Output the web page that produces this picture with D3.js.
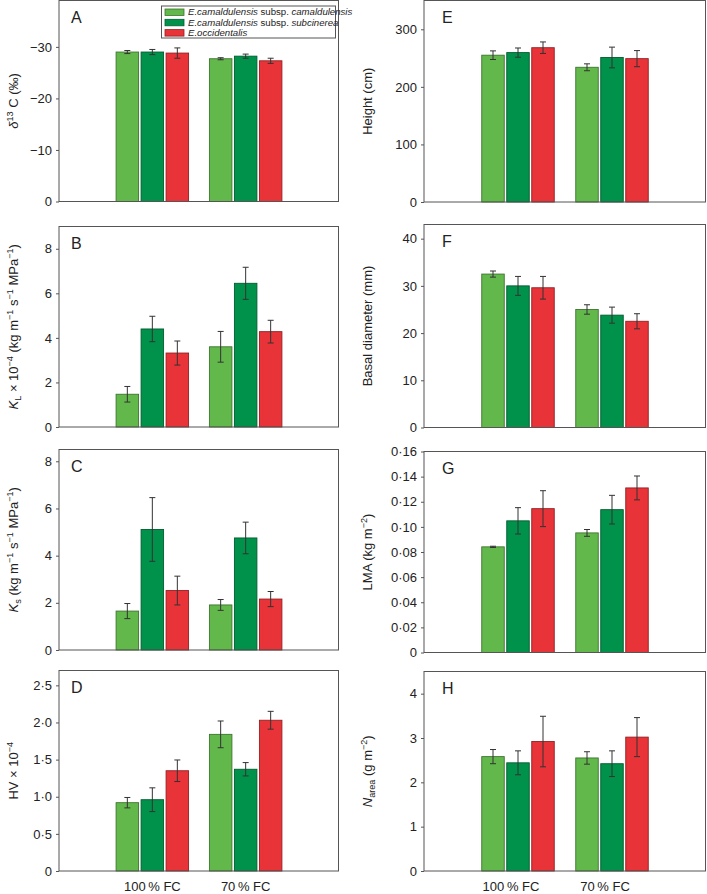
<!DOCTYPE html>
<html><head><meta charset="utf-8">
<script src="https://cdn.jsdelivr.net/npm/d3@7"></script>
<style>
html,body{margin:0;padding:0;background:#fff;}
svg{display:block;font-family:"Liberation Sans",Arial,Helvetica,sans-serif;}
</style></head>
<body><svg id="c" width="707" height="894"></svg>
<script>
// ---------- data ----------
const groups = ["100\u2009% FC", "70\u2009% FC"];
const series = ["E.camaldulensis subsp. camaldulensis", "E.camaldulensis subsp. subcinerea", "E.occidentalis"];
const seriesColors = ["#62b84b", "#00924a", "#e83338"];
// values ordered: [100%FC s1, s2, s3, 70%FC s1, s2, s3]
const d13cMean = [-29.0, -29.0, -28.8, -27.7, -28.2, -27.3];
const d13cErr  = [0.3, 0.5, 1.0, 0.2, 0.4, 0.5];
const klMean = [1.47, 4.40, 3.32, 3.60, 6.45, 4.28];
const klErr  = [0.35, 0.57, 0.54, 0.69, 0.72, 0.51];
const ksMean = [1.65, 5.11, 2.52, 1.91, 4.75, 2.16];
const ksErr  = [0.32, 1.35, 0.61, 0.23, 0.67, 0.32];
const hvMean = [0.92, 0.96, 1.35, 1.84, 1.37, 2.03];
const hvErr  = [0.07, 0.16, 0.145, 0.18, 0.09, 0.12];
const heightMean = [255, 259.5, 268, 234, 251, 249];
const heightErr  = [7.5, 8, 10, 6, 18, 14];
const basalMean = [32.5, 30.0, 29.6, 25.0, 23.8, 22.5];
const basalErr  = [0.65, 2.0, 2.4, 1.0, 1.7, 1.6];
const lmaMean = [0.0841, 0.1048, 0.1145, 0.0952, 0.1137, 0.131];
const lmaErr  = [0.0005, 0.0105, 0.0143, 0.0027, 0.0114, 0.0095];
const nareaMean = [2.58, 2.44, 2.92, 2.55, 2.42, 3.02];
const nareaErr  = [0.16, 0.27, 0.57, 0.14, 0.29, 0.44];

const d13cTicks = [0, -10, -20, -30];
const klTicks = [0, 2, 4, 6, 8];
const ksTicks = [0, 2, 4, 6, 8];
const hvTicks = [0, 0.5, 1.0, 1.5, 2.0, 2.5];
const heightTicks = [0, 100, 200, 300];
const basalTicks = [0, 10, 20, 30, 40];
const lmaTicks = [0, 0.02, 0.04, 0.06, 0.08, 0.10, 0.12, 0.14, 0.16];
const nareaTicks = [0, 1, 2, 3, 4];

// ---------- layout ----------
const svg = d3.select("#c");
const cols = [{x0: 59, x1: 339, letterX: 71, labelX: 18, xLabelShift: 0},
              {x0: 424, x1: 706, letterX: 442, labelX: 372, xLabelShift: -7}];

const fmtDot = d => d === 0 ? "0" : (Math.abs(d) < 1 && String(d).split(".")[1] && String(d).split(".")[1].length >= 2 ? d3.format(".2f")(d) : d3.format(".1f")(d)).replace(".", "\u00b7");
const fmtMinus = d => d === 0 ? "0" : d3.format("d")(d).replace("-", "\u2212");

const SUP = "sup", SUB = "sub";
const panels = [
  {letter: "A", col: 0, top: 0.5, bottom: 201.5, max: -39, mean: d13cMean, err: d13cErr, ticks: d13cTicks, fmt: fmtMinus, legend: true,
   label: [{t: "\u03b4", i: true}, {t: "13", s: SUP}, {t: " C (\u2030)"}]},
  {letter: "B", col: 0, top: 226.5, bottom: 427, max: 9, mean: klMean, err: klErr, ticks: klTicks, fmt: d3.format("d"),
   label: [{t: "K", i: true}, {t: "L", s: SUB}, {t: " \u00d7 10"}, {t: "\u22124", s: SUP}, {t: "  (kg m"}, {t: "\u22121", s: SUP}, {t: " s"}, {t: "\u22121", s: SUP}, {t: " MPa"}, {t: "\u22121", s: SUP}, {t: ")"}]},
  {letter: "C", col: 0, top: 449.5, bottom: 650, max: 8.5, mean: ksMean, err: ksErr, ticks: ksTicks, fmt: d3.format("d"),
   label: [{t: "K", i: true}, {t: "s", s: SUB}, {t: " (kg m"}, {t: "\u22121", s: SUP}, {t: " s"}, {t: "\u22121", s: SUP}, {t: " MPa"}, {t: "\u22121", s: SUP}, {t: ")"}]},
  {letter: "D", col: 0, top: 670.5, bottom: 871, max: 2.7, mean: hvMean, err: hvErr, ticks: hvTicks, fmt: d => d === 0 ? "0" : d3.format(".1f")(d).replace(".", "\u00b7"), xlabels: true,
   label: [{t: "HV \u00d7 10"}, {t: "\u22124", s: SUP}]},
  {letter: "E", col: 1, top: 0.5, bottom: 202, max: 350, mean: heightMean, err: heightErr, ticks: heightTicks, fmt: d3.format("d"),
   label: [{t: "Height (cm)"}]},
  {letter: "F", col: 1, top: 224.5, bottom: 427.5, max: 43, mean: basalMean, err: basalErr, ticks: basalTicks, fmt: d3.format("d"),
   label: [{t: "Basal diameter (mm)"}]},
  {letter: "G", col: 1, top: 451.5, bottom: 652.5, max: 0.16, mean: lmaMean, err: lmaErr, ticks: lmaTicks, fmt: d => d === 0 ? "0" : d3.format(".2f")(d).replace(".", "\u00b7"),
   label: [{t: "LMA (kg m"}, {t: "\u22122", s: SUP}, {t: ")"}]},
  {letter: "H", col: 1, top: 671.5, bottom: 871, max: 4.5, mean: nareaMean, err: nareaErr, ticks: nareaTicks, fmt: d3.format("d"), xlabels: true,
   label: [{t: "N", i: true}, {t: "area", s: SUB}, {t: " (g m"}, {t: "\u22122", s: SUP}, {t: ")"}]}
];

const axisColor = "#555";
const fontSize = 13;

function richText(sel, segs, size) {
  let shift = 0;
  segs.forEach(sg => {
    const ts = sel.append("tspan").text(sg.t);
    let target = 0, fs = size;
    if (sg.s === SUP) { target = -0.38 * size; fs = size * 0.7; }
    if (sg.s === SUB) { target = 0.25 * size; fs = size * 0.7; }
    ts.attr("dy", target - shift).attr("font-size", fs);
    if (sg.i) ts.attr("font-style", "italic");
    shift = target;
  });
}

panels.forEach(p => {
  const c = cols[p.col];
  const g = svg.append("g");
  const x = d3.scaleLinear().domain([0, 3]).range([c.x0, c.x1]);
  const inner = d3.scaleBand().domain(d3.range(series.length)).range([-36.25, 36.25]).paddingInner(0.1);
  const y = d3.scaleLinear().domain([0, p.max]).range([p.bottom, p.top]);

  const data = [];
  groups.forEach((gr, gi) => series.forEach((s, si) => {
    const k = gi * series.length + si;
    data.push({gi, si, v: p.mean[k], e: p.err[k]});
  }));

  // bars
  g.selectAll("rect.bar").data(data).join("rect").attr("class", "bar")
    .attr("x", d => x(d.gi + 1) + inner(d.si))
    .attr("width", inner.bandwidth())
    .attr("y", d => Math.min(y(d.v), y(0)))
    .attr("height", d => Math.abs(y(0) - y(d.v)))
    .attr("fill", d => seriesColors[d.si])
    .attr("stroke", d => d3.color(seriesColors[d.si]).darker(1.3))
    .attr("stroke-width", 0.9);

  // error bars
  const eb = g.selectAll("g.err").data(data).join("g").attr("class", "err")
    .attr("stroke", "#333").attr("stroke-width", 1);
  const cx = d => x(d.gi + 1) + inner(d.si) + inner.bandwidth() / 2;
  eb.append("line").attr("x1", cx).attr("x2", cx).attr("y1", d => y(d.v - d.e)).attr("y2", d => y(d.v + d.e));
  eb.append("line").attr("x1", d => cx(d) - 3).attr("x2", d => cx(d) + 3).attr("y1", d => y(d.v - d.e)).attr("y2", d => y(d.v - d.e));
  eb.append("line").attr("x1", d => cx(d) - 3).attr("x2", d => cx(d) + 3).attr("y1", d => y(d.v + d.e)).attr("y2", d => y(d.v + d.e));

  // frame
  g.append("rect").attr("x", c.x0).attr("y", p.top).attr("width", c.x1 - c.x0 - 0.5).attr("height", p.bottom - p.top)
    .attr("fill", "none").attr("stroke", axisColor).attr("stroke-width", 1);

  // y axis
  const ax = g.append("g").attr("transform", `translate(${c.x0},0)`)
    .call(d3.axisLeft(y).tickValues(p.ticks).tickFormat(p.fmt).tickSize(3).tickPadding(4));
  ax.select(".domain").remove();
  ax.selectAll(".tick line").attr("stroke", axisColor);
  ax.selectAll(".tick text").attr("font-size", fontSize).attr("fill", "#222").attr("font-family", null);

  // panel letter
  g.append("text").attr("x", c.letterX).attr("y", p.top + 22).attr("font-size", 16).attr("fill", "#222").text(p.letter);

  // y label
  const lab = g.append("text").attr("transform", `translate(${c.labelX},${(p.top + p.bottom) / 2}) rotate(-90)`)
    .attr("text-anchor", "middle").attr("font-size", fontSize).attr("fill", "#222");
  richText(lab, p.label, fontSize);

  // x labels
  if (p.xlabels) {
    g.selectAll("text.xl").data(groups).join("text").attr("class", "xl")
      .attr("x", (d, i) => x(i + 1) + c.xLabelShift).attr("y", p.bottom + 20)
      .attr("text-anchor", "middle").attr("font-size", fontSize).attr("fill", "#222").text(d => d);
  }

  // legend
  if (p.legend) {
    const lg = g.append("g");
    lg.append("rect").attr("x", 161.5).attr("y", 6).attr("width", 174).attr("height", 32)
      .attr("fill", "#fff").attr("stroke", axisColor).attr("stroke-width", 1);
    series.forEach((s, i) => {
      const yy = 12 + i * 10.3;
      lg.append("rect").attr("x", 165).attr("y", yy - 3).attr("width", 19).attr("height", 6.5)
        .attr("fill", seriesColors[i]).attr("stroke", d3.color(seriesColors[i]).darker(1.3)).attr("stroke-width", 0.8);
      const t = lg.append("text").attr("x", 188).attr("y", yy + 3.3).attr("font-size", 9.6).attr("fill", "#222");
      const parts = s.split(" subsp. ");
      t.append("tspan").attr("font-style", "italic").text(parts[0]);
      if (parts[1]) {
        t.append("tspan").text(" subsp. ");
        t.append("tspan").attr("font-style", "italic").text(parts[1]);
      }
    });
  }
});
</script></body></html>
